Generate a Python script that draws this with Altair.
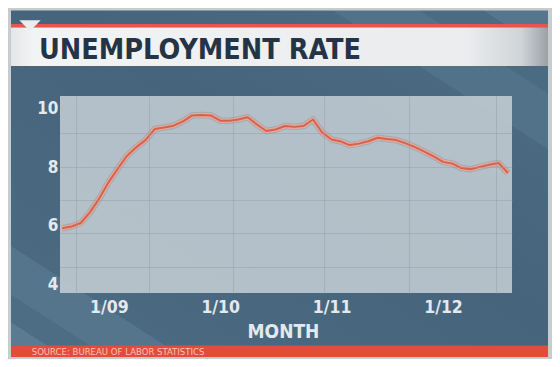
import altair as alt
import pandas as pd

# ---------------- data ----------------
start_month = "2008-08-01"
rates = [5.92, 5.98, 6.10, 6.48, 6.94, 7.50, 7.97, 8.38, 8.68, 8.92,
         9.30, 9.35, 9.41, 9.56, 9.76, 9.77, 9.76, 9.58, 9.58, 9.62,
         9.70, 9.45, 9.23, 9.28, 9.40, 9.37, 9.40, 9.62, 9.18, 8.94,
         8.87, 8.75, 8.80, 8.88, 9.00, 8.96, 8.92, 8.81, 8.68, 8.53,
         8.37, 8.18, 8.12, 7.97, 7.93, 8.01, 8.08, 8.14, 7.80]
months = pd.date_range(start_month, periods=len(rates), freq="MS").strftime("%Y-%m-%d").tolist()
y_tick_values = [4, 6, 8, 10]
x_tick_years = [2009, 2010, 2011, 2012]
title_text = "UNEMPLOYMENT RATE"
x_title = "MONTH"
source_text = "SOURCE: BUREAU OF LABOR STATISTICS"

df = pd.DataFrame({"month": months, "rate": rates})

# ---------------- styles ----------------
FONT = "Liberation Sans Narrow, DejaVu Sans Condensed, sans-serif"
LABEL = "#e4e9ed"
W, H = 452, 197

def dt(y, m, d):
    return alt.DateTime(year=y, month=m, date=d, utc=True)

xscale = alt.Scale(type="utc", domain=[dt(2008, 7, 25), dt(2012, 8, 14)], nice=False)
yscale = alt.Scale(domain=[3.72, 10.42], nice=False, zero=False)

grid_x_values = [dt(2008, 9, 14), dt(2009, 5, 13), dt(2010, 2, 12),
                 dt(2010, 12, 7), dt(2011, 9, 11), dt(2012, 6, 24)]
grid_y_values = [4.62, 5.76, 6.89, 8.02, 9.15]

grid_x_axis = alt.Axis(orient="top", values=grid_x_values, grid=True, labels=False,
                       ticks=False, tickSize=0, domain=False, title=None,
                       gridColor="#8f9ca7", gridOpacity=0.45, gridWidth=1, zindex=1)
grid_y_axis = alt.Axis(orient="right", values=grid_y_values, grid=True, labels=False,
                       ticks=False, tickSize=0, domain=False, title=None,
                       gridColor="#8f9ca7", gridOpacity=0.45, gridWidth=1, zindex=1)

x_axis = alt.Axis(values=[dt(y, 1, 1) for y in x_tick_years],
                  labelExpr="utcFormat(datum.value, '%-m/%y')",
                  labelFont=FONT, labelFontSize=17.5, labelFontWeight="bold",
                  labelColor=LABEL, labelPadding=19.5, labelBaseline="alphabetic",
                  labelFlush=False, labelOverlap=False,
                  ticks=False, tickSize=0, domain=False, grid=False,
                  title=x_title, titleFont=FONT, titleFontSize=19, titleFontWeight="bold",
                  titleColor=LABEL, titleBaseline="alphabetic", titleY=44.5, titleX=223,
                  titleAlign="center", zindex=3)
y_axis = alt.Axis(values=y_tick_values, labelFont=FONT, labelFontSize=17,
                  labelFontWeight="bold", labelColor=LABEL, labelPadding=2,
                  labelBaseline="middle", ticks=False, tickSize=0, domain=False,
                  grid=False, title=None, zindex=3)

one = pd.DataFrame({"t": [0]})

def stops(pairs):
    return [alt.GradientStop(offset=o, color=c) for o, c in pairs]

panel_fill = alt.LinearGradient(
    gradient="linear", x1=0, y1=1, x2=1, y2=0,
    stops=stops([(0.0, "#5b7b92"), (0.05, "#5b7b92"), (0.05, "#4d6d85"), (0.09, "#4d6d85"),
                 (0.09, "#55758d"), (0.16, "#55758d"), (0.16, "#4a6a82"), (0.55, "#46647c"),
                 (0.80, "#4a6a82"), (0.80, "#52728a"), (0.88, "#52728a"), (0.88, "#4b6b83"),
                 (0.94, "#4b6b83"), (0.94, "#56768d"), (1.0, "#56768d")]))

band_fill = alt.LinearGradient(
    gradient="linear", x1=0, y1=0, x2=1, y2=0,
    stops=stops([(0.0, "#e3e6e8"), (0.04, "#f2f3f4"), (0.85, "#eaecee"),
                 (0.95, "#d0d4d7"), (1.0, "#9aa1a7")]))

# ---------------- layers ----------------
panel = alt.Chart(one).mark_rect(fill=panel_fill).encode(
    x=alt.value(-49), x2=alt.value(488), y=alt.value(-85.5), y2=alt.value(261))

plot_bg = alt.Chart(one).mark_rect(fill="#c6cfd5", opacity=0.86).encode(
    x=alt.value(0), x2=alt.value(W), y=alt.value(0), y2=alt.value(H))

shadow = alt.Chart(df).mark_line(stroke="#4f5d69", strokeWidth=6.5, opacity=0.22,
                                 strokeJoin="round").encode(
    x=alt.X("month:T", scale=xscale, axis=grid_x_axis),
    y=alt.Y("rate:Q", scale=yscale, axis=grid_y_axis))

halo = alt.Chart(df).mark_line(stroke="#e9a797", strokeWidth=4.6,
                               strokeJoin="round").encode(
    x=alt.X("month:T", scale=xscale, axis=None),
    y=alt.Y("rate:Q", scale=yscale, axis=None))

core = alt.Chart(df).mark_line(stroke="#d3634f", strokeWidth=2,
                               strokeJoin="round").encode(
    x=alt.X("month:T", scale=xscale, axis=x_axis),
    y=alt.Y("rate:Q", scale=yscale, axis=y_axis))

red_line = alt.Chart(one).mark_rect(fill="#e4584a").encode(
    x=alt.value(-49), x2=alt.value(488), y=alt.value(-72), y2=alt.value(-68.5))

band = alt.Chart(one).mark_rect(fill=band_fill).encode(
    x=alt.value(-49), x2=alt.value(488), y=alt.value(-68.5), y2=alt.value(-30))

title = alt.Chart(pd.DataFrame({"label": [title_text]})).mark_text(
    font=FONT, fontSize=28.5, fontWeight="bold", color="#243446",
    align="left", baseline="alphabetic").encode(
    x=alt.value(-21), y=alt.value(-37), text="label:N")

triangle = alt.Chart(one).mark_point(
    shape="M-1,-0.5L1,-0.5L0,0.5Z", size=458, filled=True, fill="#e9edf0",
    opacity=1, strokeWidth=0).encode(x=alt.value(-30), y=alt.value(-70.3))

red_bar = alt.Chart(one).mark_rect(fill="#e34b3a").encode(
    x=alt.value(-49), x2=alt.value(488), y=alt.value(249.5), y2=alt.value(261))

source = alt.Chart(pd.DataFrame({"label": [source_text]})).mark_text(
    font=FONT, fontSize=9.5, color="#f7c7b8", align="left",
    baseline="alphabetic").encode(
    x=alt.value(-28.3), y=alt.value(259.3), text="label:N")

chart = alt.layer(
    panel, plot_bg, shadow, halo, core, red_line, band, title, triangle, red_bar, source
).resolve_axis(x="independent", y="independent").properties(
    width=W, height=H,
    autosize=alt.AutoSizeParams(type="none"),
    padding={"left": 52, "top": 88, "right": 40, "bottom": 66},
    background="#c7ccce",
).configure_view(stroke=None)

chart.save("out.html", embed_options={"renderer": "svg", "actions": False})
